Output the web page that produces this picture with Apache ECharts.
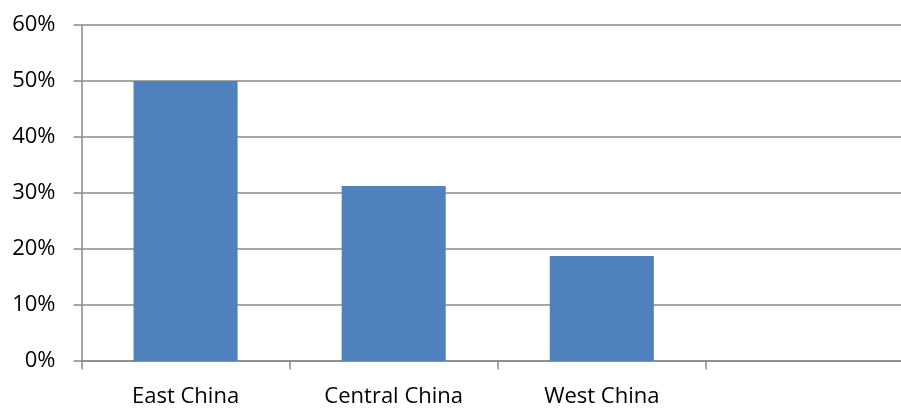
<!DOCTYPE html>
<html>
<head>
<meta charset="utf-8">
<script src="https://cdn.jsdelivr.net/npm/echarts@6/dist/echarts.min.js"></script>
<style>
  html, body { margin: 0; padding: 0; background: #fff; overflow: hidden; }
  #chart { width: 914px; height: 408px; }
</style>
</head>
<body>
<div id="chart"></div>
<script>
// Regional shares (percent)
const regions = ['East China', 'Central China', 'West China', ''];
const shares = [50, 31.25, 18.75, null];
const yTicks = { min: 0, max: 60, interval: 10 };

const lineGray = '#888888';
const font = '"Open Sans", sans-serif';

const chart = echarts.init(document.getElementById('chart'), null, { renderer: 'canvas' });
chart.setOption({
  animation: false,
  backgroundColor: '#ffffff',
  grid: { left: 81.5, right: 0, top: 25, bottom: 45.5, containLabel: false },
  xAxis: {
    type: 'category',
    data: regions,
    boundaryGap: true,
    axisLine: { show: true, lineStyle: { color: lineGray, width: 1.5 } },
    axisTick: { show: true, alignWithLabel: false, length: 8.5, lineStyle: { color: lineGray, width: 1.5 } },
    axisLabel: { color: '#000', fontFamily: font, fontSize: 22, margin: 25 },
    splitLine: { show: false }
  },
  yAxis: {
    type: 'value',
    min: yTicks.min,
    max: yTicks.max,
    interval: yTicks.interval,
    axisLine: { show: true, lineStyle: { color: lineGray, width: 1.5 } },
    axisTick: { show: true, length: 8, lineStyle: { color: lineGray, width: 1.5 } },
    axisLabel: { color: '#000', fontFamily: font, fontSize: 22, margin: 26, formatter: v => v + '%' },
    splitLine: { show: true, lineStyle: { color: lineGray, width: 1.5 } }
  },
  series: [{
    type: 'bar',
    data: shares,
    barWidth: '50%',
    itemStyle: { color: '#4f81bd' }
  }]
});
</script>
</body>
</html>
